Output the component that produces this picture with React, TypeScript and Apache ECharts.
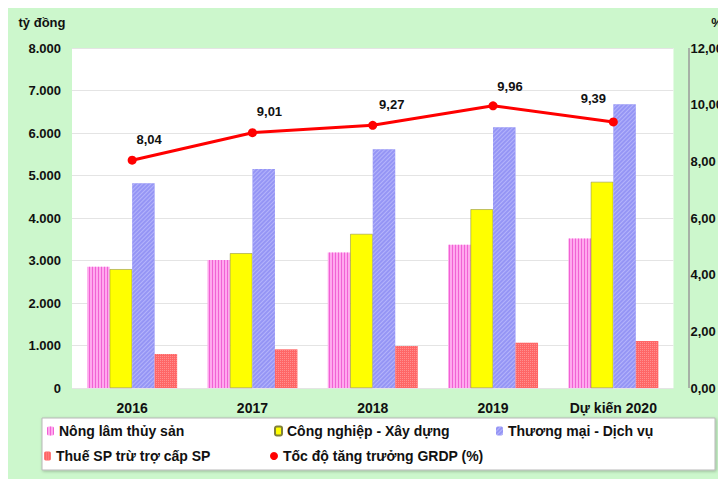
import React, { useEffect, useRef } from "react";
import * as echarts from "echarts";

const categories = ["2016", "2017", "2018", "2019", "Dự kiến 2020"];
const nongLam = [2855, 3010, 3190, 3370, 3520];
const congNghiep = [2795, 3170, 3625, 4205, 4850];
const thuongMai = [4820, 5155, 5615, 6135, 6675];
const thue = [800, 910, 990, 1065, 1105];
const tocDo = [8.04, 9.01, 9.27, 9.96, 9.39];
const seriesNames = [
  "Nông lâm thủy sản",
  "Công nghiệp - Xây dựng",
  "Thương mại - Dịch vụ",
  "Thuế SP trừ trợ cấp SP",
  "Tốc độ tăng trưởng GRDP (%)",
];

const FONT = "'Liberation Sans', Arial, sans-serif";

export default function App() {
  const ref = useRef<HTMLDivElement>(null);
  useEffect(() => {
    if (!ref.current) return;
    const chart = echarts.init(ref.current, null, { renderer: "svg" });
    const labelOffsets: number[][] = [
      [17, -2],
      [17, -2],
      [19, -2],
      [17, 0],
      [-20, -4],
    ];
    const legendText = { fontSize: 14, fontWeight: "bold" as const, color: "#111", fontFamily: FONT };
    const barBase = { type: "bar" as const, barWidth: 22.5, barGap: "0%" };
    chart.setOption({
      animation: false,
      backgroundColor: "#ccf7cc",
      textStyle: { fontFamily: FONT },
      grid: {
        left: 64,
        right: 37,
        top: 40,
        bottom: 91,
        show: true,
        backgroundColor: "#ffffff",
        borderWidth: 0,
      },
      xAxis: {
        type: "category",
        data: categories,
        axisLine: { show: false },
        axisTick: { show: false },
        axisLabel: { fontSize: 14, fontWeight: "bold", color: "#111", margin: 13, fontFamily: FONT },
      },
      yAxis: [
        {
          type: "value",
          min: 0,
          max: 8000,
          interval: 1000,
          axisLine: { show: false },
          axisTick: { show: false },
          splitLine: { lineStyle: { color: "#e4e4e4", width: 1 } },
          axisLabel: {
            fontSize: 13,
            fontWeight: "bold",
            color: "#111",
            margin: 11,
            fontFamily: FONT,
            formatter: (v: number) => (v === 0 ? "0" : v.toLocaleString("de-DE")),
          },
        },
        {
          type: "value",
          min: 0,
          max: 12,
          interval: 2,
          position: "right",
          axisLine: { show: false },
          axisTick: { show: false },
          splitLine: { show: false },
          axisLabel: {
            fontSize: 13,
            fontWeight: "bold",
            color: "#111",
            margin: 17,
            fontFamily: FONT,
            formatter: (v: number) => v.toFixed(2).replace(".", ","),
          },
        },
      ],
      legend: [
        { data: [seriesNames[0]], left: 39, top: 416, itemWidth: 7, itemHeight: 9, padding: 0, z: 10, textStyle: legendText },
        { data: [seriesNames[1]], left: 266, top: 416, itemWidth: 7, itemHeight: 9, padding: 0, z: 10, textStyle: legendText },
        { data: [seriesNames[2]], left: 488, top: 416, itemWidth: 7, itemHeight: 9, padding: 0, z: 10, textStyle: legendText },
        { data: [seriesNames[3]], left: 36, top: 441, itemWidth: 7, itemHeight: 9, padding: 0, z: 10, textStyle: legendText },
        {
          data: [{ name: seriesNames[4], icon: "circle" }],
          left: 262,
          top: 441,
          itemWidth: 8,
          itemHeight: 8,
          padding: 0,
          z: 10,
          textStyle: legendText,
        },
      ],
      graphic: [
        {
          type: "rect",
          z: 1,
          shape: { x: 34, y: 410, width: 673, height: 52 },
          style: { fill: "#ffffff", stroke: "#b8b8b8", lineWidth: 1, shadowBlur: 3, shadowColor: "rgba(0,0,0,0.25)", shadowOffsetX: 1, shadowOffsetY: 1 },
        },
        {
          type: "line",
          z: 5,
          shape: { x1: 681, y1: 40, x2: 681, y2: 380 },
          style: { stroke: "#9a9a9a", lineWidth: 1.5 },
        },
        {
          type: "text",
          z: 5,
          x: 34,
          y: 14,
          style: { text: "tỷ đồng", fontSize: 13, fontWeight: "bold", fill: "#111", fontFamily: FONT, align: "center", verticalAlign: "middle" },
        },
        {
          type: "text",
          z: 5,
          x: 709,
          y: 14,
          style: { text: "%", fontSize: 13, fontWeight: "bold", fill: "#111", fontFamily: FONT, align: "center", verticalAlign: "middle" },
        },
      ],
      series: [
        {
          ...barBase,
          name: seriesNames[0],
          data: nongLam,
          itemStyle: {
            color: "#ffa8ee",
            decal: {
              symbol: "rect",
              symbolSize: 1,
              color: "rgba(238,80,205,0.8)",
              dashArrayX: [1, 2],
              dashArrayY: [5, 0],
              rotation: 0,
            },
          },
        },
        {
          ...barBase,
          name: seriesNames[1],
          data: congNghiep,
          itemStyle: { color: "#ffff00", borderColor: "#80803a", borderWidth: 0.5 },
        },
        {
          ...barBase,
          name: seriesNames[2],
          data: thuongMai,
          itemStyle: {
            color: "#9595f5",
            decal: {
              symbol: "rect",
              symbolSize: 1,
              color: "rgba(205,205,255,0.55)",
              dashArrayX: [5, 0],
              dashArrayY: [1, 2],
              rotation: -Math.PI / 4,
            },
          },
        },
        {
          ...barBase,
          name: seriesNames[3],
          data: thue,
          itemStyle: {
            color: "#ff6666",
            decal: {
              symbol: "rect",
              symbolSize: 1,
              color: "rgba(255,170,170,0.6)",
              dashArrayX: [1, 1],
              dashArrayY: [1, 1],
              rotation: 0,
            },
          },
        },
        {
          type: "line",
          name: seriesNames[4],
          yAxisIndex: 1,
          z: 10,
          data: tocDo.map((v, i) => ({
            value: v,
            label: { offset: labelOffsets[i] },
          })),
          symbol: "circle",
          symbolSize: 9,
          lineStyle: { color: "#ff0000", width: 3 },
          itemStyle: { color: "#ff0000" },
          label: {
            show: true,
            position: "top",
            distance: 8,
            fontSize: 13,
            fontWeight: "bold",
            color: "#111",
            fontFamily: FONT,
            formatter: (p: any) => p.value.toFixed(2).replace(".", ","),
          },
        },
      ],
    });
    return () => chart.dispose();
  }, []);
  return <div ref={ref} style={{ width: 718, height: 471 }} />;
}
